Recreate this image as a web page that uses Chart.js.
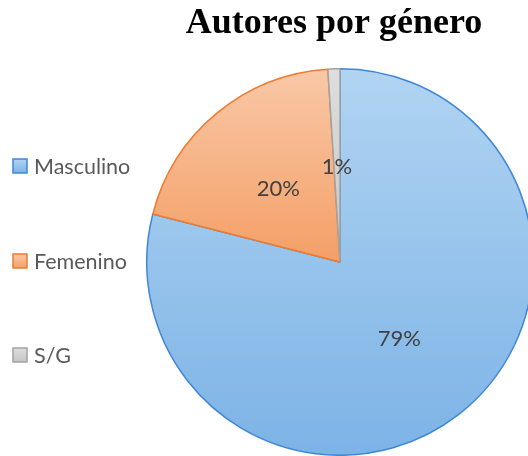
<!DOCTYPE html>
<html>
<head>
<meta charset="utf-8">
<script src="https://cdn.jsdelivr.net/npm/chart.js@4"></script>
<style>
html,body{margin:0;padding:0;background:#fff;overflow:hidden;width:528px;height:456px;}
#c{display:block;}
</style>
</head>
<body>
<canvas id="c" width="534" height="456"></canvas>
<script>
const chartTitle = 'Autores por género';
const labels = ['Masculino', 'Femenino', 'S/G'];
const values = [79, 20, 1];
const topColors = ['#b1d4f2', '#f9c8a7', '#dedede'];
const bottomColors = ['#7cb3e6', '#f49f66', '#c6c6c6'];
const borderColors = ['#3e87d6', '#ee7b30', '#a3a3a3'];

const total = values.reduce((a, b) => a + b, 0);

function sliceYRange(chart, idx) {
  const ca = chart.chartArea;
  const cx = (ca.left + ca.right) / 2, cy = (ca.top + ca.bottom) / 2;
  const r = Math.min(ca.right - ca.left, ca.bottom - ca.top) / 2;
  let before = 0;
  for (let i = 0; i < idx; i++) before += values[i];
  const a0 = before / total * Math.PI * 2;
  const a1 = (before + values[idx]) / total * Math.PI * 2;
  let ymin = cy, ymax = cy;
  const steps = 60;
  for (let s = 0; s <= steps; s++) {
    const a = a0 + (a1 - a0) * s / steps;
    const y = cy - r * Math.cos(a);
    ymin = Math.min(ymin, y); ymax = Math.max(ymax, y);
  }
  return [ymin, ymax];
}

function gradFill(context) {
  const chart = context.chart;
  if (!chart.chartArea) return topColors[context.dataIndex];
  const i = context.dataIndex;
  const [y0, y1] = sliceYRange(chart, i);
  const g = chart.ctx.createLinearGradient(0, y0, 0, y1 + 1);
  g.addColorStop(0, topColors[i]);
  g.addColorStop(1, bottomColors[i]);
  return g;
}

const customPlugin = {
  id: 'custom',
  afterDraw(chart) {
    const ctx = chart.ctx;
    ctx.save();
    // title
    ctx.font = 'bold 36px "Liberation Serif"';
    ctx.fillStyle = '#000000';
    ctx.textAlign = 'center';
    ctx.textBaseline = 'alphabetic';
    ctx.fillText(chartTitle, 334, 33);
    // data labels
    const meta = chart.getDatasetMeta(0);
    ctx.font = '22px Lato';
    ctx.fillStyle = '#404040';
    ctx.textAlign = 'center';
    ctx.textBaseline = 'middle';
    meta.data.forEach((arc, i) => {
      const p = arc.getCenterPoint();
      const pct = Math.round(values[i] / total * 100) + '%';
      ctx.fillText(pct, p.x, p.y + 1);
    });
    // legend
    const ys = [166, 261, 355];
    ctx.textAlign = 'left';
    ctx.font = '21.5px Lato';
    labels.forEach((lab, i) => {
      const y = ys[i];
      const g = ctx.createLinearGradient(0, y - 7, 0, y + 7);
      g.addColorStop(0, topColors[i]);
      g.addColorStop(1, bottomColors[i]);
      ctx.fillStyle = g;
      ctx.fillRect(13, y - 7, 14, 14);
      ctx.strokeStyle = borderColors[i];
      ctx.lineWidth = 1.5;
      ctx.strokeRect(13, y - 7, 14, 14);
      ctx.fillStyle = '#595959';
      ctx.fillText(lab, 34, y + 1);
    });
    ctx.restore();
  }
};

new Chart(document.getElementById('c'), {
  type: 'pie',
  data: {
    labels: labels,
    datasets: [{
      data: values,
      backgroundColor: gradFill,
      borderColor: borderColors,
      borderWidth: 1.5
    }]
  },
  options: {
    responsive: false,
    devicePixelRatio: 1,
    animation: false,
    layout: { padding: { top: 68, bottom: 0, left: 146, right: 0 } },
    plugins: {
      legend: { display: false },
      title: { display: false },
      tooltip: { enabled: false }
    }
  },
  plugins: [customPlugin]
});
</script>
</body>
</html>
